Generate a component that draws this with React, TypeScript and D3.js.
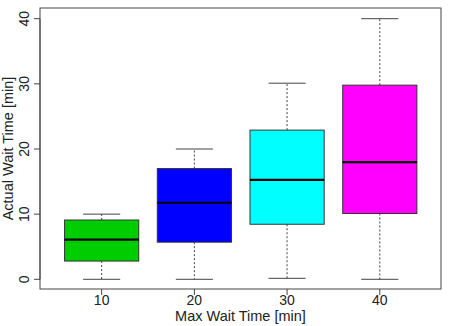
import React from 'react';
import * as d3 from 'd3';

// five-number summaries
const categories = ['10', '20', '30', '40'];
const lowWhisker = [0, 0, 0.15, 0];
const q1 = [2.8, 5.7, 8.45, 10.1];
const medians = [6.1, 11.75, 15.25, 18];
const q3 = [9.1, 17, 22.9, 29.8];
const highWhisker = [10, 20, 30.1, 40];
const boxColors = ['#00cd00', '#0000ff', '#00ffff', '#ff00ff'];
const yTicks = [0, 10, 20, 30, 40];

const W = 450;
const H = 326;
const left = 40, right = 441, top = 8, bottom = 289;

export default function App() {
  const x = d3.scaleLinear().domain([0.335, 4.66]).range([left, right]);
  const y = d3.scaleLinear().domain([0, 40]).range([279.3, 18.7]);
  const unit = x(2) - x(1);
  const boxW = unit * 0.8;
  const stapleW = unit * 0.4;
  const font = 'Liberation Sans, Arial, Helvetica, sans-serif';

  return (
    <svg width={W} height={H} style={{position: 'absolute', left: 0, top: 0}} fontFamily={font}>
      <rect x={0} y={0} width={W} height={H} fill="#fff" />

      {categories.map((c, i) => {
        const cx = x(i + 1);
        return (
          <g key={c}>
            {/* whiskers */}
            <line x1={cx} x2={cx} y1={y(q3[i])} y2={y(highWhisker[i])} stroke="#444" strokeDasharray="2 2" />
            <line x1={cx} x2={cx} y1={y(q1[i])} y2={y(lowWhisker[i])} stroke="#444" strokeDasharray="2 2" />
            <line x1={cx - stapleW / 2} x2={cx + stapleW / 2} y1={y(highWhisker[i])} y2={y(highWhisker[i])} stroke="#444" />
            <line x1={cx - stapleW / 2} x2={cx + stapleW / 2} y1={y(lowWhisker[i])} y2={y(lowWhisker[i])} stroke="#444" />
            {/* box */}
            <rect x={cx - boxW / 2} y={y(q3[i])} width={boxW} height={y(q1[i]) - y(q3[i])}
                  fill={boxColors[i]} stroke="#333" strokeWidth={1} />
            <line x1={cx - boxW / 2} x2={cx + boxW / 2} y1={y(medians[i])} y2={y(medians[i])} stroke="#000" strokeWidth={2.2} />
          </g>
        );
      })}

      {/* plot frame */}
      <rect x={left} y={top} width={right - left} height={bottom - top} fill="none" stroke="#444" strokeWidth={1} />

      {/* y axis */}
      <line x1={left} x2={left} y1={y(0)} y2={y(40)} stroke="#444" />
      {yTicks.map(t => (
        <g key={t}>
          <line x1={left - 6} x2={left} y1={y(t)} y2={y(t)} stroke="#444" />
          <text transform={`translate(29,${y(t)}) rotate(-90)`} textAnchor="middle" fontSize={14} fill="#222">{t}</text>
        </g>
      ))}

      {/* x axis */}
      {categories.map((c, i) => (
        <g key={c}>
          <line x1={x(i + 1)} x2={x(i + 1)} y1={bottom} y2={bottom + 6} stroke="#444" />
          <text x={x(i + 1)} y={305} textAnchor="middle" fontSize={14} fill="#222">{c}</text>
        </g>
      ))}

      <text x={(left + right) / 2} y={321} textAnchor="middle" fontSize={14.5} fill="#222">Max Wait Time [min]</text>
      <text transform={`translate(13,${(top + bottom) / 2}) rotate(-90)`} textAnchor="middle" fontSize={14.5} fill="#222">Actual Wait Time [min]</text>
    </svg>
  );
}
